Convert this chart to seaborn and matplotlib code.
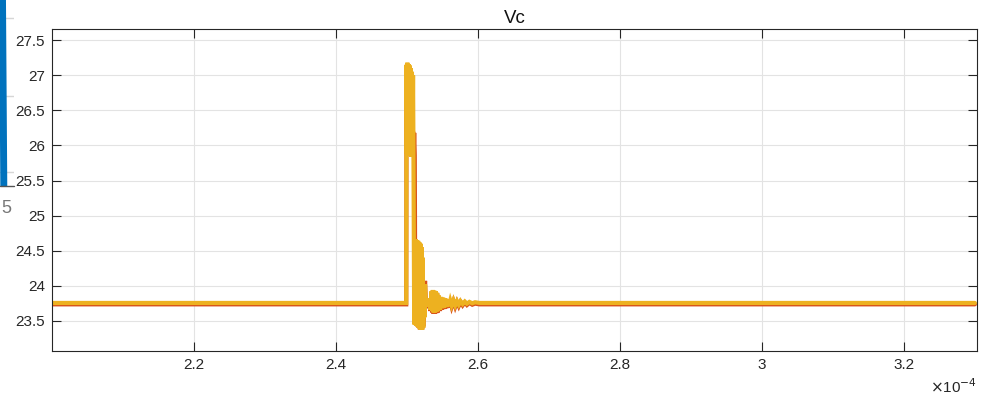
import numpy as np
import pandas as pd
import matplotlib
matplotlib.use("Agg")
import matplotlib.pyplot as plt
from matplotlib.ticker import FuncFormatter
import seaborn as sns

# Capacitor voltage Vc around the switching event (time in microseconds)
t_b_us = [200.00, 249.90, 249.94,
          250.00, 250.06, 250.14, 250.22, 250.30, 250.38, 250.46, 250.54,
          250.62, 250.70, 250.78, 250.86, 250.92,
          251.02, 251.10, 251.18, 251.26, 251.34, 251.42, 251.50, 251.58,
          251.66, 251.74, 251.82, 251.90, 251.98, 252.06, 252.14, 252.22,
          252.30, 252.38, 252.46,
          252.55, 252.70, 252.85, 253.00, 253.15, 253.30, 253.45, 253.55,
          253.65, 253.75, 253.85, 253.95, 254.05, 254.15, 254.25, 254.35,
          254.50, 254.65, 254.80, 254.95, 255.10, 255.25, 255.40, 255.55,
          255.70, 255.90, 256.10, 256.30, 256.55, 256.80, 257.05, 257.30,
          257.55, 257.85, 258.15, 258.45, 258.80, 259.20, 259.60, 260.20,
          330.00]
vc_b = [23.755, 23.755, 27.15,
        25.88, 27.18, 25.86, 27.16, 25.85, 27.14, 25.85, 27.10,
        25.84, 27.05, 25.84, 27.00, 25.84,
        23.45, 24.66, 23.44, 24.66, 23.43, 24.65, 23.42, 24.64,
        23.40, 24.62, 23.38, 24.60, 23.37, 24.55, 23.37, 24.40,
        23.40, 24.00, 23.55,
        24.02, 23.70, 23.80, 23.72, 23.82, 23.66, 23.92, 23.64,
        23.94, 23.62, 23.93, 23.62, 23.92, 23.63, 23.90, 23.64,
        23.86, 23.66, 23.84, 23.68, 23.83, 23.69, 23.82, 23.70,
        23.80, 23.71, 23.79, 23.72, 23.79, 23.72, 23.78, 23.73,
        23.78, 23.74, 23.775, 23.745, 23.77, 23.75, 23.765, 23.755,
        23.755]

t_a_us = [200.00, 249.90, 249.94,
          250.00, 250.06, 250.14, 250.22, 250.30, 250.38, 250.46, 250.54,
          250.62, 250.70, 250.78, 250.86, 250.94, 251.02, 251.10, 251.18,
          251.26, 251.34, 251.42, 251.50, 251.58, 251.66, 251.74, 251.82,
          251.90, 251.98, 252.06, 252.14, 252.22, 252.30, 252.40,
          252.55, 252.70, 252.85, 253.00, 253.15, 253.30, 253.45, 253.55,
          253.65, 253.75, 253.85, 253.95, 254.05, 254.15, 254.25, 254.35,
          254.50, 254.65, 254.80, 254.95, 255.10, 255.25, 255.40, 255.55,
          255.70, 255.90, 256.10, 256.30, 256.55, 256.80, 257.05, 257.30,
          257.55, 257.85, 258.15, 258.45, 258.80, 259.20, 259.60, 260.20,
          330.00]
vc_a = [23.735, 23.735, 27.12,
        25.88, 27.16, 25.86, 27.14, 25.85, 27.12, 25.85, 27.08,
        25.84, 27.02, 25.84, 26.20, 25.86, 26.18, 25.86, 23.45,
        24.64, 23.43, 24.63, 23.42, 24.62, 23.40, 24.60, 23.38,
        24.58, 23.37, 24.52, 23.38, 24.38, 23.42, 23.70,
        24.07, 23.68, 23.79, 23.70, 23.81, 23.64, 23.91, 23.62,
        23.93, 23.60, 23.92, 23.60, 23.91, 23.61, 23.89, 23.62,
        23.85, 23.64, 23.83, 23.66, 23.82, 23.67, 23.81, 23.68,
        23.79, 23.69, 23.78, 23.70, 23.78, 23.70, 23.77, 23.71,
        23.77, 23.72, 23.76, 23.725, 23.755, 23.73, 23.745, 23.735,
        23.735]

x_ticks = [2.2e-4, 2.4e-4, 2.6e-4, 2.8e-4, 3.0e-4, 3.2e-4]
y_ticks = [23.5, 24, 24.5, 25, 25.5, 26, 26.5, 27, 27.5]
x_range = (2.0e-4, 3.303e-4)
y_range = (23.07, 27.66)

# Edge of the neighbouring panel (pixel units of that strip)
edge_x = [2.5, 3.8]
edge_y = [0.0, 187.0]
edge_grid_y = [18.0, 96.0, 172.0]

df_a = pd.DataFrame({"t": np.array(t_a_us) * 1e-6, "v": vc_a})
df_b = pd.DataFrame({"t": np.array(t_b_us) * 1e-6, "v": vc_b})

sns.set_style("white")
plt.rcParams["font.family"] = ["Liberation Sans", "DejaVu Sans"]

fig = plt.figure(figsize=(9.9, 4.01), dpi=100)
W, H = 990, 401
ax = fig.add_axes([52 / W, 1 - 351 / H, (977 - 52) / W, (351 - 29) / H])

sns.lineplot(data=df_a, x="t", y="v", ax=ax, color="#D95319", lw=3.0,
             estimator=None, sort=False, solid_joinstyle="miter")
sns.lineplot(data=df_b, x="t", y="v", ax=ax, color="#EDB120", lw=3.0,
             estimator=None, sort=False, solid_joinstyle="miter")

ax.set_xlim(*x_range)
ax.set_ylim(*y_range)
ax.set_xticks(x_ticks)
ax.set_yticks(y_ticks)
ax.xaxis.set_major_formatter(FuncFormatter(lambda v, p: f"{v * 1e4:g}"))
ax.yaxis.set_major_formatter(FuncFormatter(lambda v, p: f"{v:g}"))
ax.set_xlabel("")
ax.set_ylabel("")
ax.grid(True, color="#e3e3e3", lw=0.8)
ax.set_axisbelow(True)
ax.tick_params(direction="in", length=6.5, width=0.8, color="#262626",
               labelsize=11, labelcolor="#262626", top=True, right=True,
               bottom=True, left=True, pad=5)
for s in ax.spines.values():
    s.set_visible(True)
    s.set_color("#262626")
    s.set_linewidth(0.8)
ax.set_title("Vc", fontsize=13.5, color="#111111", pad=4)
ax.text(1.0, -0.11, r"$\times$10$^{-4}$", transform=ax.transAxes,
        ha="right", va="center", fontsize=11, color="#262626")

# Neighbouring panel edge at the far left
ax2 = fig.add_axes([0, 1 - 187 / H, 14 / W, 187 / H])
ax2.set_xlim(0, 14)
ax2.set_ylim(187, 0)
for gy in edge_grid_y:
    ax2.plot([0, 14], [gy, gy], color="#d6d6d6", lw=1.0)
ax2.plot(edge_x, edge_y, color="#0072BD", lw=5.0, solid_capstyle="butt")
ax2.axis("off")
ax2.plot([0, 14], [186.5, 186.5], color="#555555", lw=1.0, clip_on=False)
fig.text(1 / W, 1 - 209 / H, "5", fontsize=13, color="#777777",
         ha="left", va="center")

fig.savefig("out.png", dpi=100)
